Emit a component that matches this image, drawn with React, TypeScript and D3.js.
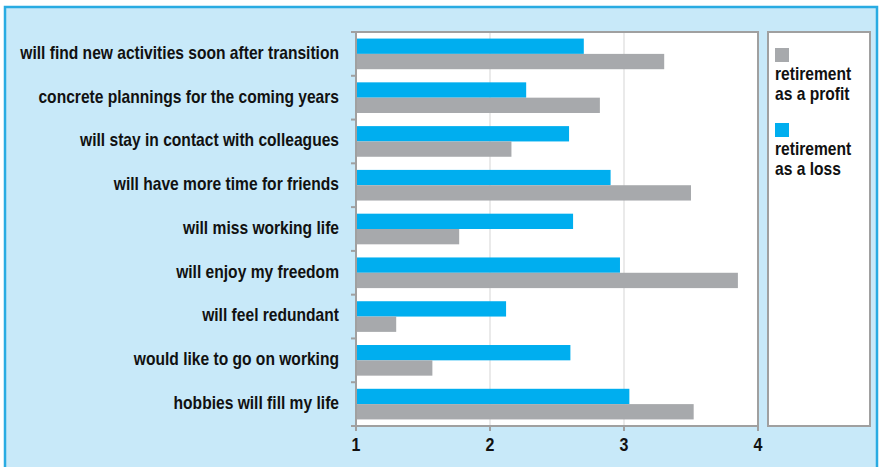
import React, { useLayoutEffect, useRef, useState } from "react";
import * as d3 from "d3";

const categories = [
  "will find new activities soon after transition",
  "concrete plannings for the coming years",
  "will stay in contact with colleagues",
  "will have more time for friends",
  "will miss working life",
  "will enjoy my freedom",
  "will feel redundant",
  "would like to go on working",
  "hobbies will fill my life",
];
const lossValues = [2.7, 2.27, 2.59, 2.9, 2.62, 2.97, 2.12, 2.6, 3.04];
const profitValues = [3.3, 2.82, 2.16, 3.5, 1.77, 3.85, 1.3, 1.57, 3.52];
const xTicks = [1, 2, 3, 4];
const seriesKeys = ["loss", "profit"];
const legendItems = [
  { key: "profit", lines: ["retirement", "as a profit"] },
  { key: "loss", lines: ["retirement", "as a loss"] },
];

const W = 881;
const H = 467;
const FONT = "'Liberation Sans', Arial, sans-serif";
const colors: Record<string, string> = { loss: "#00aeef", profit: "#a7a9ac" };
const FIRST_LABEL_WIDTH = 319;
const FS = 18;

export default function App() {
  const left = 356;
  const right = 758;
  const top = 32;
  const bottom = 426;
  const x = d3.scaleLinear().domain([1, 4]).range([left, right]);
  const y = d3.scaleBand<string>().domain(categories).range([top, bottom]).paddingInner(0.3).paddingOuter(0.15);
  const sub = d3.scaleBand<string>().domain(seriesKeys).range([0, y.bandwidth()]);
  const rows = categories.map((c, i) => ({ c, loss: lossValues[i], profit: profitValues[i] }));
  const step = y.step();
  const tickYs = d3.range(categories.length + 1).map((i) => top + i * step);

  const measureRef = useRef<SVGTextElement>(null);
  const [sx, setSx] = useState(0.75);
  useLayoutEffect(() => {
    if (measureRef.current) {
      const w = measureRef.current.getComputedTextLength();
      if (w > 0) setSx(FIRST_LABEL_WIDTH / w);
    }
  }, []);

  return (
    <svg width={W} height={H} style={{ position: "absolute", left: 0, top: 0 }} fontFamily={FONT}>
      <rect x={5} y={7} width={872} height={480} fill="#c8e9f9" stroke="#29abe2" strokeWidth={2.5} />
      <text ref={measureRef} x={20} y={30} fontSize={FS} fontWeight="bold" fillOpacity={0} visibility="hidden">
        {categories[0]}
      </text>
      <rect x={left} y={top} width={right - left} height={bottom - top} fill="#ffffff" />
      {xTicks.slice(1, -1).map((t) => (
        <line key={t} x1={x(t)} x2={x(t)} y1={top} y2={bottom} stroke="#dcdcdc" strokeWidth={1.2} />
      ))}
      {rows.map((r) => (
        <g key={r.c} transform={`translate(0,${y(r.c)})`}>
          {seriesKeys.map((k) => (
            <rect
              key={k}
              x={x(1)}
              y={sub(k)}
              width={x((r as any)[k]) - x(1)}
              height={sub.bandwidth()}
              fill={colors[k]}
            />
          ))}
          <text
            transform={`translate(339,${y.bandwidth() / 2}) scale(${sx},1)`}
            dy="0.27em"
            textAnchor="end"
            fontSize={FS}
            fontWeight="bold"
            fill="#111"
          >
            {r.c}
          </text>
        </g>
      ))}
      <rect x={left} y={top} width={right - left} height={bottom - top} fill="none" stroke="#a0a0a0" strokeWidth={2} />
      {tickYs.map((ty, i) => (
        <line key={i} x1={left - 5} x2={left} y1={ty} y2={ty} stroke="#a0a0a0" strokeWidth={2} />
      ))}
      {xTicks.map((t) => (
        <g key={t}>
          <line x1={x(t)} x2={x(t)} y1={bottom} y2={bottom + 5} stroke="#a0a0a0" strokeWidth={2} />
          <text
            transform={`translate(${x(t)},451) scale(${sx},1)`}
            textAnchor="middle"
            fontSize={18.5}
            fontWeight="bold"
            fill="#111"
          >
            {t}
          </text>
        </g>
      ))}
      <rect x={768} y={32} width={102} height={394} fill="#ffffff" stroke="#a0a0a0" strokeWidth={2} />
      {legendItems.map((it, i) => (
        <g key={it.key} transform={`translate(775,${48 + i * 75})`}>
          <rect x={0} y={0} width={14} height={14} fill={colors[it.key]} />
          {it.lines.map((ln, j) => (
            <text
              key={j}
              transform={`translate(0,${32 + j * 19.5}) scale(${sx},1)`}
              fontSize={FS}
              fontWeight="bold"
              fill="#111"
            >
              {ln}
            </text>
          ))}
        </g>
      ))}
    </svg>
  );
}
